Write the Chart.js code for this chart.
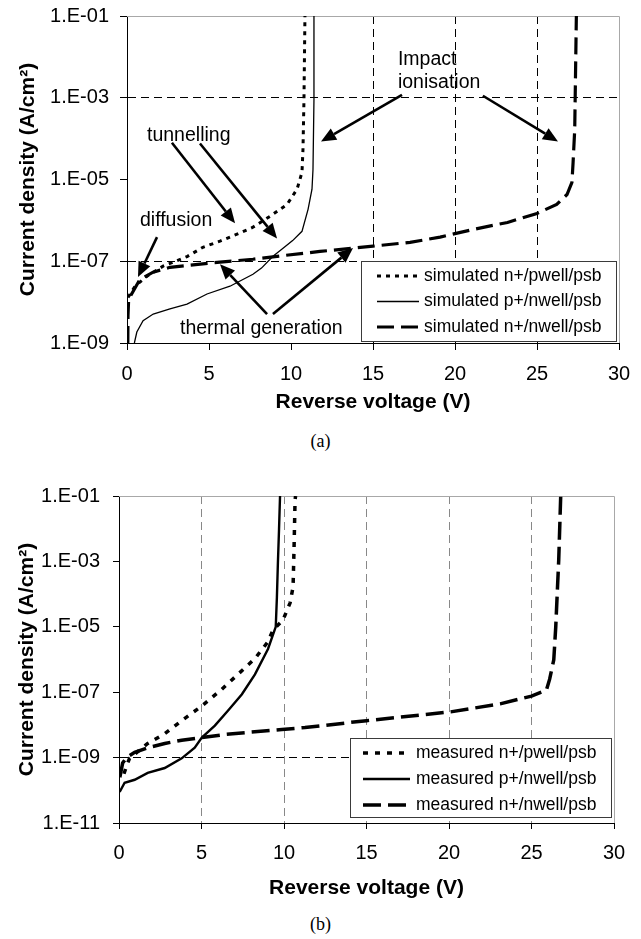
<!DOCTYPE html>
<html>
<head>
<meta charset="utf-8">
<script src="https://cdn.jsdelivr.net/npm/chart.js@4.4.1/dist/chart.umd.min.js"></script>
<style>
  html, body { margin: 0; padding: 0; background: #fff; }
  body { width: 641px; height: 939px; position: relative; overflow: hidden; }
  canvas { position: absolute; left: 0; }
  #chartA { top: 0; }
  #chartB { top: 460px; }
  .cap { position: absolute; left: 0; width: 641px; text-align: center;
         font-family: "Liberation Serif", "Times New Roman", serif; font-size: 18px; color: #000; }
</style>
</head>
<body>
<canvas id="chartA" width="641" height="420"></canvas>
<div class="cap" style="top:431px">(a)</div>
<canvas id="chartB" width="641" height="450"></canvas>
<div class="cap" style="top:914px">(b)</div>
<script>
// (a) simulated curves
var voltsA1 = [0.06, 0.49, 1.22, 2.2, 3.66, 4.63, 5.67, 6.71, 7.68, 8.72, 9.76, 10.37, 10.67, 10.73, 10.79, 10.85];
var densA1  = [1.3e-8, 2.45e-8, 4.3e-8, 7.6e-8, 1.3e-7, 2.2e-7, 3.1e-7, 4.6e-7, 6.8e-7, 1.26e-6, 2.45e-6, 5.8e-6, 1.5e-5, 5.4e-5, 8.9e-4, 1e-1];
var voltsA2 = [0.45, 0.6, 0.98, 1.6, 2.62, 3.66, 4.88, 6.28, 7.68, 8.2, 8.9, 9.4, 10.1, 10.67, 11.04, 11.28, 11.34, 11.4, 11.4];
var densA2  = [1e-9, 1.86e-9, 3.5e-9, 5.1e-9, 6.8e-9, 8.9e-9, 1.58e-8, 2.45e-8, 4.8e-8, 6.8e-8, 1.32e-7, 1.9e-7, 3.2e-7, 5.4e-7, 1.86e-6, 5.8e-6, 1.74e-5, 8.9e-4, 1e-1];
var voltsA3 = [0.05, 0.06, 0.1, 0.79, 1.59, 2.62, 3.66, 5.67, 7.68, 9.15, 11.77, 15.0, 17.26, 19.09, 21.1, 23.2, 25.0, 26.2, 26.83, 27.13, 27.2, 27.3, 27.4];
var densA3  = [1e-9, 4.6e-9, 1.17e-8, 3.6e-8, 5.4e-8, 7.1e-8, 7.9e-8, 9.5e-8, 1.12e-7, 1.32e-7, 1.74e-7, 2.34e-7, 2.9e-7, 3.9e-7, 6.0e-7, 8.9e-7, 1.48e-6, 2.45e-6, 4.3e-6, 8.5e-6, 2.6e-5, 1.66e-4, 1e-1];

// (b) measured curves
var voltsB1 = [0.3, 0.5, 0.64, 1.74, 2.77, 3.8, 5.02, 6.23, 7.2, 8.24, 9.03, 9.33, 9.94, 10.37, 10.55, 10.61, 10.67, 10.7];
var densB1  = [3.2e-10, 6.3e-10, 9.5e-10, 2.7e-9, 5.4e-9, 1.35e-8, 3.8e-8, 1.23e-7, 3.5e-7, 1.07e-6, 3.5e-6, 7.9e-6, 1.62e-5, 5.4e-5, 1.66e-4, 2.75e-3, 7.4e-2, 1e-1];
var voltsB2 = [0.04, 0.34, 0.95, 1.74, 2.77, 3.8, 4.59, 5.02, 5.81, 6.6, 7.45, 8.24, 9.03, 9.5, 9.57, 9.63, 9.7, 9.76];
var densB2  = [8.9e-11, 1.7e-10, 2.1e-10, 3.4e-10, 4.8e-10, 9.5e-10, 2.0e-9, 4.1e-9, 9.5e-9, 2.7e-8, 8.7e-8, 3.5e-7, 2.1e-6, 1e-5, 8.1e-5, 8.9e-4, 1e-2, 1e-1];
var voltsB3 = [0.05, 0.22, 0.46, 0.95, 1.74, 2.77, 3.8, 5.02, 6.42, 7.81, 9.87, 11.27, 15.0, 20.1, 23.1, 25.0, 25.9, 26.1, 26.35, 26.47, 26.65, 26.77];
var densB3  = [2.5e-10, 6.8e-10, 1e-9, 1.45e-9, 2.0e-9, 2.7e-9, 3.4e-9, 4.1e-9, 5.1e-9, 5.9e-9, 7.2e-9, 8.3e-9, 1.35e-8, 2.5e-8, 4.4e-8, 7.6e-8, 1.15e-7, 2.5e-7, 9.8e-7, 1e-5, 1.1e-3, 1e-1];

// axes
var ticksX = [0, 5, 10, 15, 20, 25, 30];
var ticksYA = [1e-9, 1e-7, 1e-5, 1e-3, 1e-1];
var ticksYB = [1e-11, 1e-9, 1e-7, 1e-5, 1e-3, 1e-1];
var gridXA = [15, 20, 25];
var gridYA = [1e-7, 1e-3];
var gridXB = [5, 10, 15, 20, 25];
var gridYB = [1e-9];

// notes on (a): text anchors and arrows in data units (V, A/cm2)
var notesTextA = [
  { lines: ['Impact', 'ionisation'], at: [16.52, 8.5e-3] },
  { lines: ['tunnelling'], at: [1.22, 1.17e-4] },
  { lines: ['diffusion'], at: [0.79, 1e-6] },
  { lines: ['thermal generation'], at: [3.23, 2.3e-9] }
];
var notesArrowA = [
  { from: [16.77, 1.17e-3], to: [11.83, 8.5e-5] },
  { from: [21.7, 1.12e-3], to: [26.28, 8.5e-5] },
  { from: [2.74, 7.9e-5], to: [6.59, 8.5e-7] },
  { from: [4.45, 7.6e-5], to: [9.15, 3.6e-7] },
  { from: [1.83, 3.9e-7], to: [0.67, 4.1e-8] },
  { from: [8.54, 5.1e-9], to: [5.67, 8.5e-8] },
  { from: [8.9, 5.1e-9], to: [13.78, 2.1e-7] }
];

var family = '"Liberation Sans", Arial, Helvetica, sans-serif';
Chart.defaults.font.family = family;
Chart.defaults.color = '#000';

function points(xs, ys) {
  return xs.map(function (x, i) { return { x: x, y: ys[i] }; });
}

function sciLabel(v) {
  var e = Math.round(Math.log10(v)), a = Math.abs(e);
  return '1.E' + (e < 0 ? '-' : '+') + (a < 10 ? '0' + a : a);
}

function onlyAt(list, color) {
  return function (c) {
    return (c.tick && list.indexOf(c.tick.value) >= 0) ? color : 'rgba(0,0,0,0)';
  };
}

function line(label, xs, ys, width, dash) {
  return {
    label: label, data: points(xs, ys), borderColor: '#000', borderWidth: width,
    borderDash: dash, borderCapStyle: 'butt', pointRadius: 0, fill: false, tension: 0
  };
}

// labels may hang past the plot area; keep the layout from shrinking it
function noPad(s) {
  s.paddingTop = 0; s.paddingBottom = 0; s.paddingLeft = 0; s.paddingRight = 0;
}

// top and right edges of the plot area
var framePlugin = {
  id: 'frame',
  beforeDatasetsDraw: function (chart) {
    var a = chart.chartArea, ctx = chart.ctx;
    ctx.save();
    ctx.strokeStyle = '#a8a8a8';
    ctx.lineWidth = 1;
    ctx.beginPath();
    ctx.moveTo(a.left, Math.round(a.top) + 0.5);
    ctx.lineTo(Math.round(a.right) + 0.5, Math.round(a.top) + 0.5);
    ctx.lineTo(Math.round(a.right) + 0.5, a.bottom);
    ctx.stroke();
    ctx.restore();
  }
};

function legendPlugin(o) {
  return {
    id: 'boxLegend',
    afterDatasetsDraw: function (chart) {
      var a = chart.chartArea, ctx = chart.ctx;
      var x0 = Math.round(a.right - o.right - o.width), y0 = Math.round(a.bottom - o.bottom - o.height);
      ctx.save();
      ctx.fillStyle = '#fff';
      ctx.fillRect(x0, y0, o.width, o.height);
      ctx.strokeStyle = '#3a3a3a';
      ctx.lineWidth = 1;
      ctx.strokeRect(x0 + 0.5, y0 + 0.5, o.width, o.height);
      ctx.font = o.fontSize + 'px ' + family;
      ctx.textBaseline = 'middle';
      ctx.fillStyle = '#000';
      chart.data.datasets.forEach(function (ds, i) {
        var y = y0 + o.first + i * o.step;
        ctx.save();
        ctx.strokeStyle = ds.borderColor;
        ctx.lineWidth = ds.borderWidth;
        ctx.setLineDash(ds.borderDash || []);
        ctx.lineCap = 'butt';
        ctx.beginPath();
        ctx.moveTo(x0 + o.sampleX, y);
        ctx.lineTo(x0 + o.sampleX + o.sample, y);
        ctx.stroke();
        ctx.restore();
        ctx.fillText(ds.label, x0 + o.textX, y);
      });
      ctx.restore();
    }
  };
}

function notesPlugin(texts, arrows) {
  return {
    id: 'notes',
    afterDraw: function (chart) {
      var xs = chart.scales.x, ys = chart.scales.y, ctx = chart.ctx;
      ctx.save();
      ctx.fillStyle = '#000';
      ctx.strokeStyle = '#000';
      ctx.font = '19.5px ' + family;
      ctx.textBaseline = 'middle';
      ctx.textAlign = 'left';
      texts.forEach(function (t) {
        var px = xs.getPixelForValue(t.at[0]), py = ys.getPixelForValue(t.at[1]);
        t.lines.forEach(function (s, k) { ctx.fillText(s, px, py + k * 23); });
      });
      arrows.forEach(function (r) {
        var x1 = xs.getPixelForValue(r.from[0]), y1 = ys.getPixelForValue(r.from[1]);
        var x2 = xs.getPixelForValue(r.to[0]), y2 = ys.getPixelForValue(r.to[1]);
        var ang = Math.atan2(y2 - y1, x2 - x1), L = 15, W = 6.5;
        var bx = x2 - L * Math.cos(ang), by = y2 - L * Math.sin(ang);
        ctx.lineWidth = 2.6;
        ctx.beginPath();
        ctx.moveTo(x1, y1);
        ctx.lineTo(bx, by);
        ctx.stroke();
        ctx.beginPath();
        ctx.moveTo(x2, y2);
        ctx.lineTo(bx + W * Math.sin(ang), by - W * Math.cos(ang));
        ctx.lineTo(bx - W * Math.sin(ang), by + W * Math.cos(ang));
        ctx.closePath();
        ctx.fill();
      });
      ctx.restore();
    }
  };
}

function buildChart(id, cfg) {
  return new Chart(document.getElementById(id), {
    type: 'line',
    data: { datasets: cfg.datasets },
    plugins: [framePlugin, legendPlugin(cfg.legend), notesPlugin(cfg.texts, cfg.arrows)],
    options: {
      responsive: false,
      animation: false,
      events: [],
      layout: { padding: cfg.padding },
      plugins: { legend: { display: false }, tooltip: { enabled: false } },
      scales: {
        x: {
          type: 'linear', min: 0, max: 30,
          afterBuildTicks: function (s) { s.ticks = ticksX.map(function (v) { return { value: v }; }); },
          afterFit: function (s) { s.height = cfg.xHeight; noPad(s); },
          ticks: { font: { size: 20 }, padding: cfg.xPad, color: '#000', maxRotation: 0 },
          grid: { color: onlyAt(cfg.gridX, cfg.gridXColor), lineWidth: 1, tickLength: cfg.tick,
                  tickColor: '#000', tickWidth: 1 },
          border: { color: '#000', width: 1, dash: [8, 5] },
          title: { display: true, text: 'Reverse voltage (V)', color: '#000',
                   font: { size: 21, weight: 'bold' }, padding: 0 }
        },
        y: {
          type: 'logarithmic', min: cfg.yTicks[0], max: 0.1,
          afterBuildTicks: function (s) { s.ticks = cfg.yTicks.map(function (v) { return { value: v }; }); },
          afterFit: function (s) { s.width = cfg.yWidth; noPad(s); },
          ticks: { font: { size: 20 }, padding: cfg.yPad, color: '#000', callback: sciLabel },
          grid: { color: onlyAt(cfg.gridY, '#000'), lineWidth: 1, tickLength: cfg.tick,
                  tickColor: '#000', tickWidth: 1 },
          border: { color: '#000', width: 1, dash: [8, 5] },
          title: { display: true, text: 'Current density (A/cm²)', color: '#000',
                   font: { size: 21, weight: 'bold' }, padding: { top: cfg.yTitlePad, bottom: 0 } }
        }
      }
    }
  });
}

buildChart('chartA', {
  datasets: [
    line('simulated n+/pwell/psb', voltsA1, densA1, 3, [4, 5]),
    line('simulated p+/nwell/psb', voltsA2, densA2, 1.3, []),
    line('simulated n+/nwell/psb', voltsA3, densA3, 3.2, [17, 7])
  ],
  padding: { left: 0, top: 16, right: 22, bottom: 5 },
  xHeight: 72, yWidth: 127, tick: 7, xPad: 12, yPad: 11, yTitlePad: 16,
  yTicks: ticksYA, gridX: gridXA, gridY: gridYA, gridXColor: '#000',
  legend: { right: 3, bottom: 2, width: 255, height: 80, first: 15, step: 25.5,
            sampleX: 16, sample: 42, textX: 63, fontSize: 17.5 },
  texts: notesTextA, arrows: notesArrowA
});

buildChart('chartB', {
  datasets: [
    line('measured n+/pwell/psb', voltsB1, densB1, 3.5, [5, 7]),
    line('measured p+/nwell/psb', voltsB2, densB2, 2.4, []),
    line('measured n+/nwell/psb', voltsB3, densB3, 3.5, [18, 7])
  ],
  padding: { left: 0, top: 36, right: 27, bottom: 9 },
  xHeight: 78, yWidth: 119, tick: 6, xPad: 12, yPad: 13, yTitlePad: 15,
  yTicks: ticksYB, gridX: gridXB, gridY: gridYB, gridXColor: '#888',
  legend: { right: 3, bottom: 6, width: 261, height: 79, first: 15, step: 26,
            sampleX: 13, sample: 47, textX: 66, fontSize: 17.5 },
  texts: [], arrows: []
});
</script>
</body>
</html>
